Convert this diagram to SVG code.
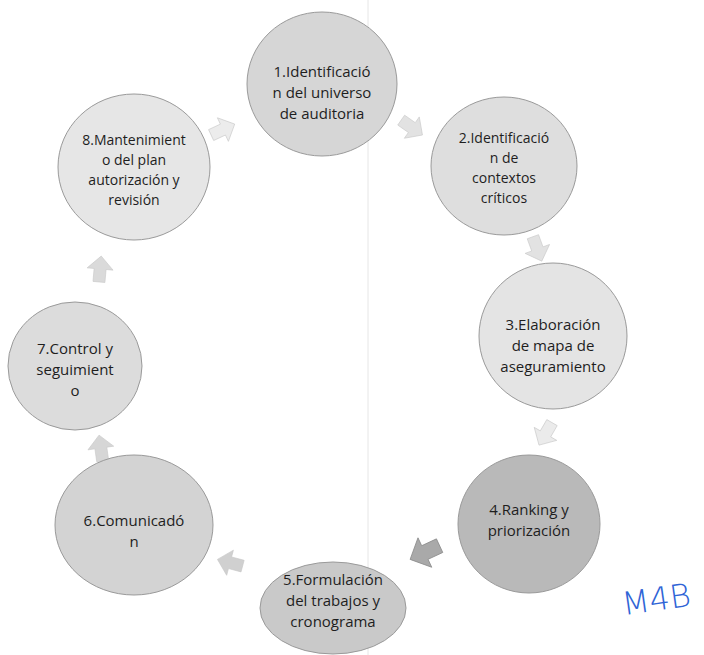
<svg xmlns="http://www.w3.org/2000/svg" width="704" height="655" viewBox="0 0 704 655">
<style>
.n{stroke:#9a9a9a;stroke-width:1}
.t{font-family:"Open Sans","Liberation Sans",sans-serif;font-size:15px;fill:#1e1e1e;text-anchor:middle}
.s{font-size:14px}
.a{fill:#e2e2e2;stroke:#c8c8c8;stroke-width:0.6}
</style>
<defs>
<polygon id="arr" points="-12,-6 1,-6 1,-13 14,0 1,13 1,6 -12,6"/>
</defs>
<rect width="704" height="655" fill="#ffffff"/>
<line x1="368" y1="0" x2="368" y2="655" stroke="#e6e6e6" stroke-width="1"/>
<g id="connectors">
<use href="#arr" class="a" transform="translate(222,130) rotate(-25)" style="fill:#ececec"/>
<use href="#arr" class="a" transform="translate(411,127) rotate(35)"/>
<use href="#arr" class="a" transform="translate(537,248) rotate(70)"/>
<use href="#arr" class="a" transform="translate(546,433) rotate(120)" style="fill:#ebebeb"/>
<use href="#arr" class="a" transform="translate(426,552) rotate(155) scale(1.25)" style="fill:#a9a9a9;stroke:#8a8a8a"/>
<use href="#arr" class="a" transform="translate(231,563) rotate(195)" style="fill:#d0d0d0"/>
<use href="#arr" class="a" transform="translate(101,449) rotate(262)" style="fill:#d6d6d6"/>
<use href="#arr" class="a" transform="translate(100,270) rotate(275)" style="fill:#dadada"/>
</g>
<g id="n1">
<ellipse class="n" cx="322" cy="84" rx="75" ry="72" fill="#d6d6d6"/>
<text class="t" x="322" y="77">1.Identificació</text>
<text class="t" x="322" y="98">n del universo</text>
<text class="t" x="322" y="119">de auditoria</text>
</g>
<g id="n2">
<ellipse class="n" cx="504" cy="166" rx="73" ry="69" fill="#dedede"/>
<text class="t s" x="504" y="143">2.Identificació</text>
<text class="t s" x="504" y="163">n de</text>
<text class="t s" x="504" y="183">contextos</text>
<text class="t s" x="504" y="203">críticos</text>
</g>
<g id="n3">
<ellipse class="n" cx="553" cy="336" rx="74" ry="73" fill="#e4e4e4"/>
<text class="t" x="553" y="330">3.Elaboración</text>
<text class="t" x="553" y="351">de mapa de</text>
<text class="t" x="553" y="372">aseguramiento</text>
</g>
<g id="n4">
<ellipse class="n" cx="529" cy="524" rx="71" ry="69" fill="#b9b9b9"/>
<text class="t" x="529" y="515">4.Ranking y</text>
<text class="t" x="529" y="536">priorización</text>
</g>
<g id="n5">
<ellipse class="n" cx="333" cy="608" rx="73" ry="46" fill="#c9c9c9"/>
<text class="t" x="333" y="585">5.Formulación</text>
<text class="t" x="333" y="606">del trabajos y</text>
<text class="t" x="333" y="627">cronograma</text>
</g>
<g id="n6">
<ellipse class="n" cx="134" cy="525" rx="79" ry="70" fill="#d3d3d3"/>
<text class="t" x="134" y="526">6.Comunicadó</text>
<text class="t" x="134" y="547">n</text>
</g>
<g id="n7">
<ellipse class="n" cx="75" cy="366" rx="67" ry="64" fill="#dcdcdc"/>
<text class="t" x="75" y="354">7.Control y</text>
<text class="t" x="75" y="375">seguimient</text>
<text class="t" x="75" y="396">o</text>
</g>
<g id="n8">
<ellipse class="n" cx="134" cy="167" rx="76" ry="73" fill="#e6e6e6"/>
<text class="t s" x="134" y="145">8.Mantenimient</text>
<text class="t s" x="134" y="165">o del plan</text>
<text class="t s" x="134" y="185">autorización y</text>
<text class="t s" x="134" y="205">revisión</text>
</g>
<text x="622" y="610" font-family="'DejaVu Sans',sans-serif" font-weight="200" font-size="32" fill="#2f64d6" transform="rotate(-8 660 600)">M4B</text>
</svg>
